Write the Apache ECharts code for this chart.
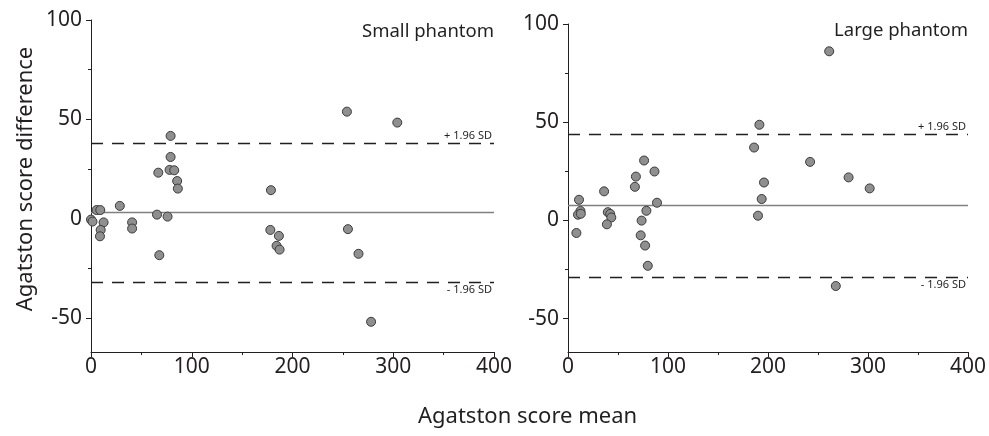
<!DOCTYPE html>
<html>
<head>
<meta charset="utf-8">
<script src="https://cdn.jsdelivr.net/npm/echarts@6/dist/echarts.min.js"></script>
<style>html,body{margin:0;padding:0;background:#fff}#c{width:989px;height:436px}</style>
</head>
<body>
<div id="c"></div>
<script>
// Small phantom: mean (x) and difference (y)
var smallMean = [254, 304, 79, 79, 66.8, 78, 82.6, 85.5, 86.2, 178.6, 28.6, 5.6, 9.2, 65.5, 76, 0, 1.5, 12.5, 40.8, 40.8, 9.6, 8.9, 178, 186.5, 184.2, 187.2, 255, 265.5, 67.8, 278];
var smallDiff = [53.9, 48.4, 41.7, 31.1, 23.2, 24.6, 24.4, 19.0, 15.2, 14.4, 6.5, 4.4, 4.4, 2.1, 1.1, -0.4, -1.4, -1.8, -1.8, -4.9, -5.6, -8.8, -5.6, -8.6, -13.6, -15.5, -5.2, -17.6, -18.3, -51.8];
// Large phantom: mean (x) and difference (y)
var largeMean = [261.2, 191.4, 186.1, 76.1, 242.1, 86.5, 67.9, 280.6, 66.9, 196, 36.1, 301.7, 11.0, 193.7, 89, 12.5, 10.0, 12.8, 39.8, 42.2, 43.3, 38.9, 78.4, 73.6, 190, 8.4, 72.7, 77.1, 79.8, 267.8];
var largeDiff = [86.1, 48.7, 37.1, 30.5, 29.8, 24.9, 22.3, 21.9, 17.1, 19.3, 14.8, 16.3, 10.5, 10.9, 9.0, 4.8, 2.9, 3.4, 4.2, 3.3, 1.5, -2.0, 4.9, -0.1, 2.4, -6.4, -7.6, -12.8, -23.1, -33.4];
// Bias and limits of agreement
var smallLines = [3.1, 38.0, -32.0];   // mean, +1.96 SD, -1.96 SD
var largeLines = [7.6, 43.9, -28.8];
var sdLabels = ['+ 1.96 SD', '- 1.96 SD'];
// Axis ticks
var xLabelTicks = [0, 100, 200, 300, 400];
var xMinorTicks = [50, 150, 250, 350];
var yLabelTicks = [-50, 0, 50, 100];
var yMinorTicks = [-25, 25, 75];
var xRange = [0, 400];
var yRange = [-67, 100];

var FONT = 'Noto Sans';
var INK = '#231f20';

function zip(a, b) { return a.map(function (v, i) { return [v, b[i]]; }); }

function mainX(gi) {
  return {
    type: 'value', gridIndex: gi, position: 'bottom', min: xRange[0], max: xRange[1],
    splitLine: { show: false },
    axisLine: { show: true, onZero: false, lineStyle: { color: INK, width: 1 } },
    axisTick: { show: true, length: 5, customValues: xLabelTicks, lineStyle: { color: INK } },
    axisLabel: { customValues: xLabelTicks, color: INK, fontSize: 21, fontFamily: FONT, margin: 5 }
  };
}
function minorX(gi) {
  return {
    type: 'value', gridIndex: gi, position: 'bottom', offset: 0, min: xRange[0], max: xRange[1],
    splitLine: { show: false },
    axisLine: { show: false, onZero: false },
    axisTick: { show: true, length: 3, customValues: xMinorTicks, lineStyle: { color: INK } },
    axisLabel: { show: false }
  };
}
function mainY(gi) {
  return {
    type: 'value', gridIndex: gi, position: 'left', min: yRange[0], max: yRange[1],
    splitLine: { show: false },
    axisLine: { show: true, onZero: false, lineStyle: { color: INK, width: 1 } },
    axisTick: { show: true, length: 5, customValues: yLabelTicks, lineStyle: { color: INK } },
    axisLabel: { customValues: yLabelTicks, color: INK, fontSize: 21, fontFamily: FONT, margin: 9 }
  };
}
function minorY(gi) {
  return {
    type: 'value', gridIndex: gi, position: 'left', offset: 0, min: yRange[0], max: yRange[1],
    splitLine: { show: false },
    axisLine: { show: false, onZero: false },
    axisTick: { show: true, length: 3, customValues: yMinorTicks, lineStyle: { color: INK } },
    axisLabel: { show: false }
  };
}
function limitLines(v) {
  return [
    { yAxis: v[0], lineStyle: { type: 'solid', color: '#808080', width: 1.3 }, label: { show: false } },
    { yAxis: v[1], lineStyle: { type: [12, 9], color: INK, width: 1.3 },
      label: { show: true, formatter: sdLabels[0], position: 'insideEndTop', distance: 2, color: INK, fontSize: 11, fontFamily: FONT } },
    { yAxis: v[2], lineStyle: { type: [12, 9], color: INK, width: 1.3 },
      label: { show: true, formatter: sdLabels[1], position: 'insideEndBottom', distance: 2, color: INK, fontSize: 11, fontFamily: FONT } }
  ];
}
function scatter(xi, yi, data, lines) {
  return {
    type: 'scatter', xAxisIndex: xi, yAxisIndex: yi, data: data,
    symbol: 'circle', symbolSize: 9, clip: false, z: 5,
    itemStyle: { color: '#8f8f8f', borderColor: '#3a3a3a', borderWidth: 1, opacity: 1 },
    markLine: { silent: true, symbol: 'none', animation: false, data: lines, z: 2 }
  };
}

var chart = echarts.init(document.getElementById('c'), null, { renderer: 'canvas' });
chart.setOption({
  animation: false,
  backgroundColor: '#fff',
  grid: [
    { left: 91, right: 495, top: 20, bottom: 84 },
    { left: 568, right: 16, top: 24, bottom: 84 }
  ],
  xAxis: [mainX(0), mainX(1), minorX(0), minorX(1)],
  yAxis: [mainY(0), mainY(1), minorY(0), minorY(1)],
  graphic: [
    { type: 'text', right: 989 - 494, top: 22, style: { text: 'Small phantom', fill: INK, font: '18.5px "' + FONT + '"' } },
    { type: 'text', right: 989 - 968, top: 21, style: { text: 'Large phantom', fill: INK, font: '18.5px "' + FONT + '"' } },
    { type: 'text', left: 418, top: 406, style: { text: 'Agatston score mean', fill: INK, font: '22px "' + FONT + '"' } },
    { type: 'text', x: 26, y: 179, rotation: Math.PI / 2,
      style: { text: 'Agatston score difference', fill: INK, font: '22px "' + FONT + '"', align: 'center', verticalAlign: 'middle' } }
  ],
  series: [
    scatter(0, 0, zip(smallMean, smallDiff), limitLines(smallLines)),
    scatter(1, 1, zip(largeMean, largeDiff), limitLines(largeLines))
  ]
});
</script>
</body>
</html>
